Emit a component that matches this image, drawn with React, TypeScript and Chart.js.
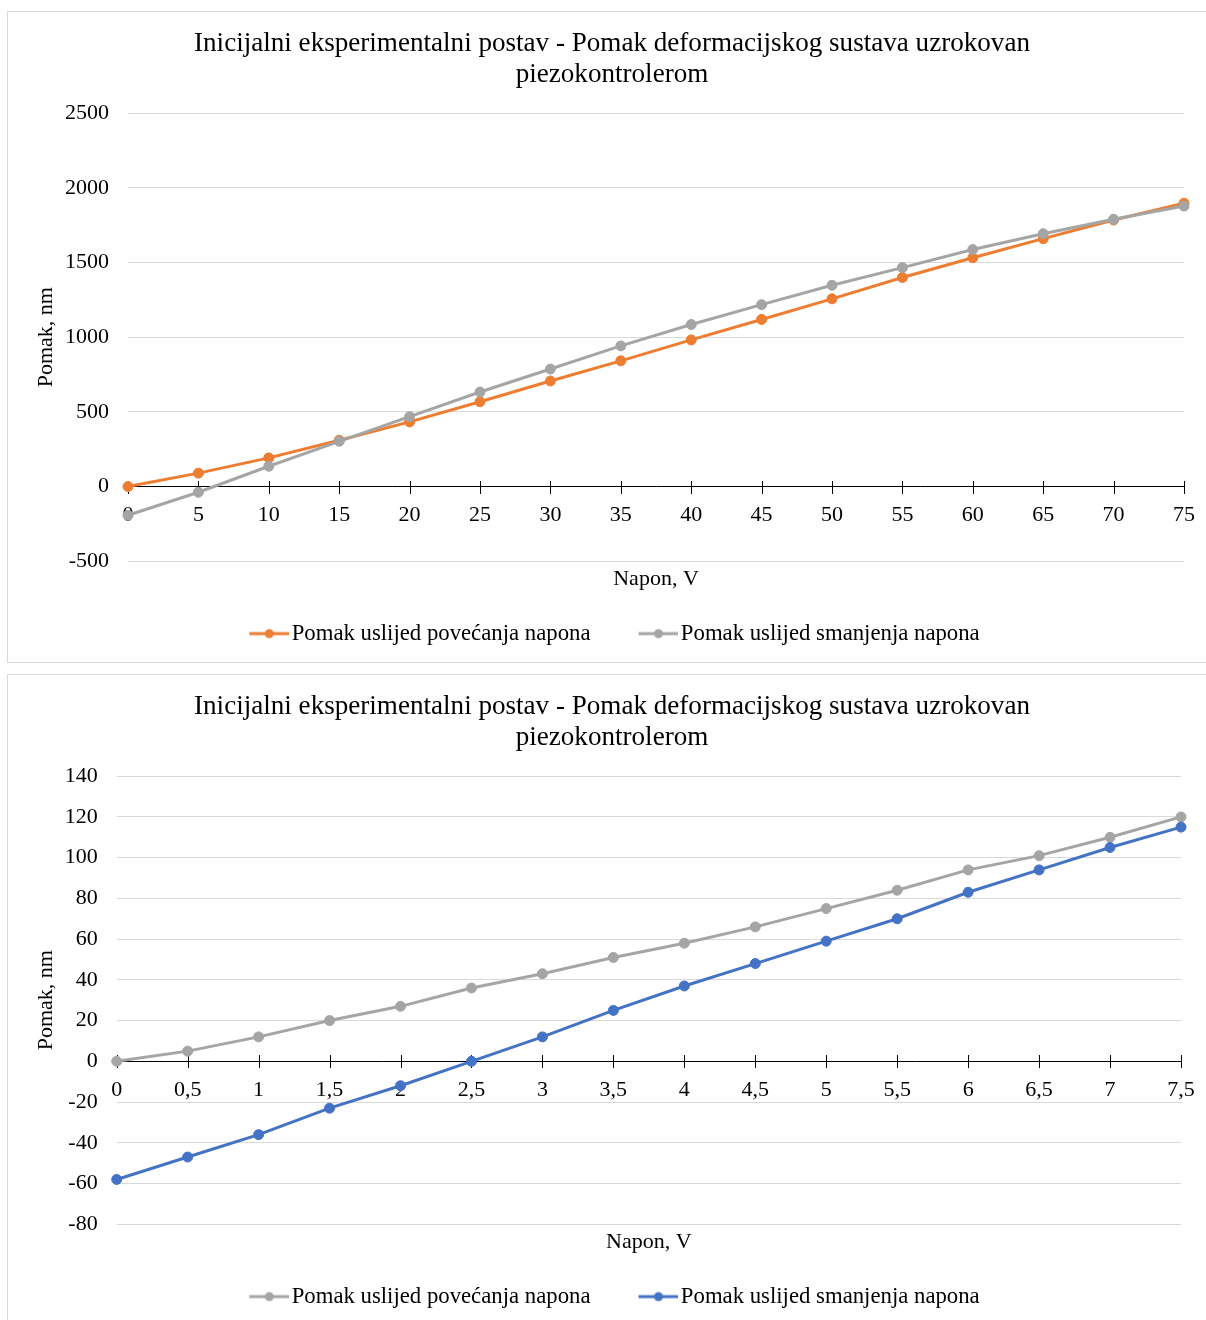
import React, { useEffect, useRef } from "react";
import { Chart, registerables } from "chart.js";

Chart.register(...registerables);

// ---------- text ----------
const CHART_TITLE = [
  "Inicijalni eksperimentalni postav - Pomak deformacijskog sustava uzrokovan",
  "piezokontrolerom",
];
const X_TITLE = "Napon, V";
const Y_TITLE = "Pomak, nm";
const LABEL_UP = "Pomak uslijed povećanja napona";
const LABEL_DOWN = "Pomak uslijed smanjenja napona";

// ---------- chart 1 data ----------
const volts1 = [0, 5, 10, 15, 20, 25, 30, 35, 40, 45, 50, 55, 60, 65, 70, 75];
const up1 = [0, 90, 192, 310, 433, 568, 707, 842, 982, 1119, 1257, 1400, 1532, 1660, 1785, 1897];
const down1 = [-192, -38, 136, 303, 468, 633, 787, 942, 1085, 1218, 1348, 1466, 1587, 1693, 1790, 1878];
const Y1_MIN = -500;
const Y1_MAX = 2500;
const Y1_STEP = 500;
const X1_MAX = 75;
const X1_STEP = 5;

// ---------- chart 2 data ----------
const volts2 = [0, 0.5, 1, 1.5, 2, 2.5, 3, 3.5, 4, 4.5, 5, 5.5, 6, 6.5, 7, 7.5];
const up2 = [0, 5, 12, 20, 27, 36, 43, 51, 58, 66, 75, 84, 94, 101, 110, 120];
const down2 = [-58, -47, -36, -23, -12, 0, 12, 25, 37, 48, 59, 70, 83, 94, 105, 115];
const Y2_MIN = -80;
const Y2_MAX = 140;
const Y2_STEP = 20;
const X2_MAX = 7.5;
const X2_STEP = 0.5;

// ---------- styles ----------
const ORANGE = "#ED7D31";
const GRAY = "#A5A5A5";
const BLUE = "#4472C4";
const GRID = "#D9D9D9";
const TEXT = "#000000";
const FONT_FAMILY = "'Times New Roman', 'Liberation Serif', serif";
const CANVAS_W = 1210;
const CANVAS_H = 650;

const fmt = (v: any) => String(v).replace(".", ",");

function legendMarker(color: string) {
  const c = document.createElement("canvas");
  c.width = 54;
  c.height = 12;
  const g = c.getContext("2d")!;
  g.strokeStyle = color;
  g.lineWidth = 3;
  g.beginPath();
  g.moveTo(14, 6);
  g.lineTo(54, 6);
  g.stroke();
  g.fillStyle = color;
  g.beginPath();
  g.arc(34, 6, 4.5, 0, Math.PI * 2);
  g.fill();
  return c;
}

const crossTicks = {
  id: "crossTicks",
  beforeDatasetsDraw(chart: any) {
    const xs = chart.scales.x;
    const ys = chart.scales.y;
    const y0 = Math.round(ys.getPixelForValue(0));
    const ctx = chart.ctx;
    ctx.save();
    ctx.strokeStyle = TEXT;
    ctx.lineWidth = 1;
    ctx.beginPath();
    xs.ticks.forEach((t: any) => {
      const px = Math.round(xs.getPixelForValue(t.value)) + 0.5;
      ctx.moveTo(px, y0 - 6);
      ctx.lineTo(px, y0 + 7);
    });
    ctx.stroke();
    ctx.restore();
  },
};

type Cfg = {
  volts: number[];
  a: number[];
  b: number[];
  colorA: string;
  colorB: string;
  yMin: number;
  yMax: number;
  yStep: number;
  xMax: number;
  xStep: number;
  padLeft: number;
  padRight: number;
  yWidth: number;
  yTitlePad: number;
};

function LineChart({ cfg }: { cfg: Cfg }) {
  const ref = useRef<HTMLCanvasElement | null>(null);
  useEffect(() => {
    const font = { family: FONT_FAMILY, size: 22, weight: "normal" as const };
    const legendFont = { family: FONT_FAMILY, size: 22.75, weight: "normal" as const };
    const markers = [legendMarker(cfg.colorA), legendMarker(cfg.colorB)];
    const mk = (label: string, ys: number[], color: string, order: number) => ({
      label,
      data: cfg.volts.map((v, i) => ({ x: v, y: ys[i] })),
      borderColor: color,
      backgroundColor: color,
      borderWidth: 3,
      pointRadius: 5,
      pointHoverRadius: 5,
      pointBackgroundColor: color,
      pointBorderColor: color,
      pointBorderWidth: 1,
      tension: 0,
      clip: false as any,
      order,
    });
    const chart = new Chart(ref.current!, {
      type: "line",
      data: {
        datasets: [
          mk(LABEL_UP, cfg.a, cfg.colorA, 1),
          mk(LABEL_DOWN, cfg.b, cfg.colorB, 0),
        ],
      },
      options: {
        responsive: false,
        animation: false,
        events: [],
        layout: { padding: { left: cfg.padLeft, right: cfg.padRight, top: 0, bottom: 7 } },
        scales: {
          x: {
            type: "linear",
            position: { y: 0 } as any,
            min: 0,
            max: cfg.xMax,
            ticks: {
              stepSize: cfg.xStep,
              padding: 15.5,
              maxRotation: 0,
              autoSkip: false,
              color: TEXT,
              font,
              callback: fmt,
            },
            grid: { display: false, drawTicks: false },
            border: { display: true, color: TEXT, width: 1 },
            afterFit: (s: any) => {
              s.height = 0;
              s.paddingLeft = 0;
              s.paddingRight = 0;
            },
          } as any,
          x2: {
            type: "linear",
            position: "bottom",
            min: 0,
            max: 1,
            ticks: { display: false },
            grid: { display: false, drawTicks: false },
            border: { display: false },
            title: {
              display: true,
              text: X_TITLE,
              color: TEXT,
              font,
              padding: { top: 0, bottom: -13 },
            },
            afterFit: (s: any) => {
              s.height = 18;
              s.paddingLeft = 0;
              s.paddingRight = 0;
              s.paddingTop = 0;
              s.paddingBottom = 0;
            },
          } as any,
          y: {
            type: "linear",
            position: "left",
            min: cfg.yMin,
            max: cfg.yMax,
            ticks: { stepSize: cfg.yStep, padding: 19, color: TEXT, font, callback: fmt },
            grid: { color: GRID, lineWidth: 1, drawTicks: false },
            border: { display: false },
            title: {
              display: true,
              text: Y_TITLE,
              color: TEXT,
              font,
              padding: { top: cfg.yTitlePad, bottom: 0 },
            },
            afterFit: (s: any) => {
              s.width = cfg.yWidth;
            },
          } as any,
        },
        plugins: {
          title: {
            display: true,
            text: CHART_TITLE,
            color: TEXT,
            font: { family: FONT_FAMILY, size: 27.1, weight: "normal", lineHeight: 31 / 27.1 },
            padding: { top: 16.2, bottom: 23 },
          },
          legend: {
            display: true,
            position: "bottom",
            align: "center",
            labels: {
              usePointStyle: true,
              pointStyleWidth: 36,
              padding: 43,
              color: TEXT,
              font: legendFont,
              sort: (p: any, q: any) => p.datasetIndex - q.datasetIndex,
              generateLabels: (ch: any) => {
                const items = (Chart.defaults.plugins.legend.labels as any).generateLabels(ch);
                return items.map((it: any) => ({ ...it, pointStyle: markers[it.datasetIndex] }));
              },
            },
          },
          tooltip: { enabled: false },
        },
      } as any,
      plugins: [crossTicks],
    });
    return () => chart.destroy();
  }, []);
  return (
    <canvas
      ref={ref}
      width={CANVAS_W}
      height={CANVAS_H}
      style={{ display: "block", width: CANVAS_W, height: CANVAS_H }}
    />
  );
}

const cfg1: Cfg = {
  volts: volts1,
  a: up1,
  b: down1,
  colorA: ORANGE,
  colorB: GRAY,
  yMin: Y1_MIN,
  yMax: Y1_MAX,
  yStep: Y1_STEP,
  xMax: X1_MAX,
  xStep: X1_STEP,
  padLeft: 32,
  padRight: 34,
  yWidth: 88,
  yTitlePad: -7,
};

const cfg2: Cfg = {
  volts: volts2,
  a: up2,
  b: down2,
  colorA: GRAY,
  colorB: BLUE,
  yMin: Y2_MIN,
  yMax: Y2_MAX,
  yStep: Y2_STEP,
  xMax: X2_MAX,
  xStep: X2_STEP,
  padLeft: 35,
  padRight: 37,
  yWidth: 73.7,
  yTitlePad: -10,
};

const boxStyle = (top: number): React.CSSProperties => ({
  position: "absolute",
  left: 7,
  top,
  width: CANVAS_W,
  height: CANVAS_H,
  border: `1px solid ${GRID}`,
  background: "#ffffff",
});

export default function App() {
  useEffect(() => {
    document.documentElement.style.overflow = "hidden";
  }, []);
  return (
    <div
      style={{
        position: "fixed",
        left: 0,
        top: 0,
        width: 1206,
        height: 1320,
        overflow: "hidden",
        background: "#ffffff",
      }}
    >
      <div style={boxStyle(11)}>
        <LineChart cfg={cfg1} />
      </div>
      <div style={boxStyle(674)}>
        <LineChart cfg={cfg2} />
      </div>
    </div>
  );
}
